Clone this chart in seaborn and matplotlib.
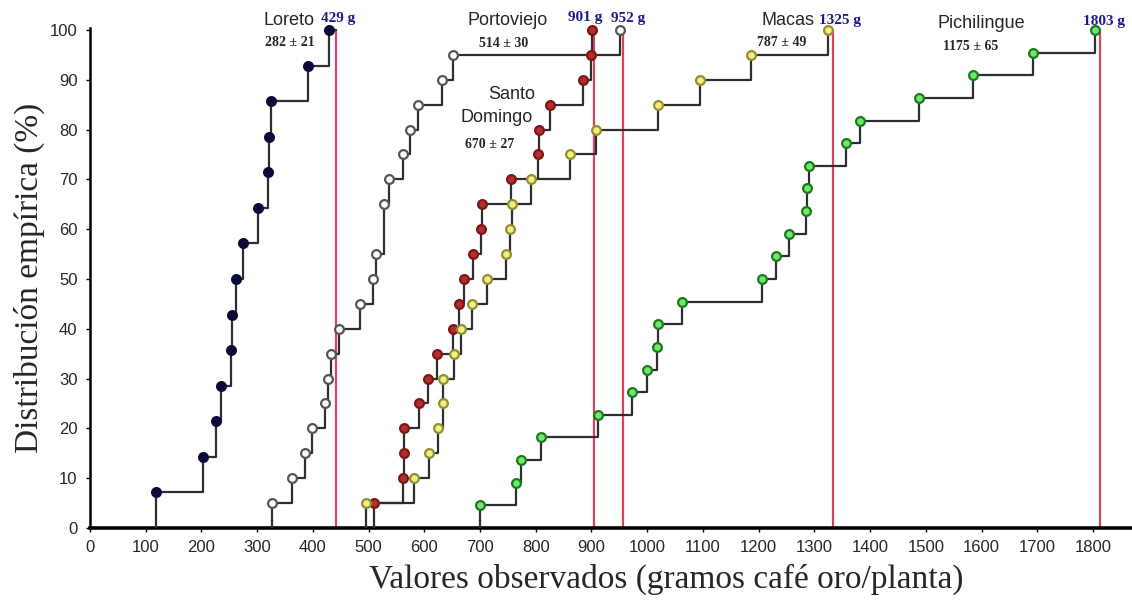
import numpy as np
import pandas as pd
import matplotlib
matplotlib.use("Agg")
import matplotlib.pyplot as plt
import seaborn as sns

# ---- data (g coffee per plant, one value per observation) ----
loreto = [118, 202, 226, 235, 253, 255, 262, 275, 301, 319, 321, 325, 392, 429]
portoviejo = [327, 362, 386, 399, 421, 427, 432, 446, 485, 508, 513, 527, 527,
              537, 562, 575, 589, 631, 652, 952]
santo_domingo = [510, 562, 563, 564, 590, 607, 622, 651, 662, 672, 688, 702, 704,
                 756, 804, 806, 826, 884, 900, 901]
macas = [495, 581, 608, 625, 633, 634, 654, 666, 686, 713, 747, 753, 757, 792,
         862, 908, 1020, 1095, 1186, 1325]
pichilingue = [700, 765, 773, 810, 911, 973, 999, 1018, 1020, 1062, 1206, 1231,
               1254, 1285, 1287, 1290, 1357, 1382, 1487, 1585, 1693, 1803]

series_names = ["Loreto", "Portoviejo", "Santo Domingo", "Macas", "Pichilingue"]
series_data = [loreto, portoviejo, santo_domingo, macas, pichilingue]
max_labels = ["429 g", "952 g", "901 g", "1325 g", "1803 g"]
mean_labels = ["282 ± 21", "514 ± 30", "670 ± 27", "787 ± 49", "1175 ± 65"]
red_line_x = [441, 956, 905, 1334, 1812]
x_ticks = list(range(0, 1900, 100))
y_ticks = list(range(0, 110, 10))

# ---- styles ----
face_colors = ["#0b0b3a", "#ffffff", "#b52d2d", "#f3ef78", "#6ee86e"]
edge_colors = ["#0b0b3a", "#555555", "#7a1818", "#8f8f3a", "#1d7a1d"]
line_color = "#2e2e2e"
red_color = "#d8435f"
num_color = "#1c1c8a"

sns.set_theme(style="ticks")
plt.rcParams["font.family"] = ["Liberation Sans", "DejaVu Sans"]

fig = plt.figure(figsize=(11.32, 6), dpi=100)
ax = fig.add_axes([90 / 1132, 72 / 600, (1132 - 90) / 1132, 500 / 600])

rows = []
for name, vals in zip(series_names, series_data):
    for v in vals:
        rows.append({"site": name, "value": v})
df = pd.DataFrame(rows)

for i, name in enumerate(series_names):
    sub = df[df["site"] == name]
    vals = np.sort(sub["value"].to_numpy())
    n = len(vals)
    # red reference line
    ax.plot([red_line_x[i], red_line_x[i]], [0, 100], color=red_color, lw=1.6, zorder=2)
    # step ECDF line
    sns.ecdfplot(data=sub, x="value", stat="percent", ax=ax, color=line_color,
                 lw=1.6, zorder=3)
    ax.plot([vals[-1], red_line_x[i]], [100, 100], color=line_color, lw=1.6, zorder=3)
    uniq = np.unique(vals)
    pct = np.searchsorted(vals, uniq, side="right") / n * 100
    sns.scatterplot(x=uniq, y=pct, ax=ax, s=40, color=face_colors[i],
                    edgecolor=edge_colors[i], linewidth=1.6, zorder=5, clip_on=False)

ax.set_xlim(0, 1870)
ax.set_ylim(0, 100.4)
ax.set_xticks(x_ticks)
ax.set_yticks(y_ticks)
ax.tick_params(axis="both", labelsize=12, length=3, width=1, color="black")
ax.tick_params(axis="x", pad=6)
ax.tick_params(axis="y", pad=6)
for s in ["top", "right"]:
    ax.spines[s].set_visible(False)
ax.spines["bottom"].set_linewidth(2.6)
ax.spines["left"].set_linewidth(1.8)
ax.spines["bottom"].set_color("black")
ax.spines["left"].set_color("black")

serif = ["Liberation Serif", "DejaVu Serif"]
ax.set_xlabel("Valores observados (gramos café oro/planta)", fontsize=24,
              family=serif)
ax.xaxis.set_label_coords(0.553, -0.072)
ax.set_ylabel("Distribución empírica (%)", fontsize=24, family=serif)
ax.yaxis.set_label_coords(-0.043, 0.5)

# ---- annotations ----
name_pos = {"Loreto": (357, 101.9), "Portoviejo": (749, 102.0),
            "Pichilingue": (1600, 101.4), "Macas": (1253, 102.0)}
for nm, (x, y) in name_pos.items():
    ax.text(x, y, nm, ha="center", va="center", fontsize=13, clip_on=False)
ax.text(757, 87.0, "Santo", ha="center", va="center", fontsize=13)
ax.text(729, 82.5, "Domingo", ha="center", va="center", fontsize=13)

mean_pos = [(359, 97.4), (742, 97.2), (718, 77.1), (1242, 97.4), (1580, 96.6)]
for lab, (x, y) in zip(mean_labels, mean_pos):
    ax.text(x, y, lab, ha="center", va="center", fontsize=10, family=serif,
            fontweight="bold")

max_pos = [(446, 102.4), (966, 102.4), (888, 102.6), (1346, 102.0), (1820, 101.8)]
for lab, (x, y) in zip(max_labels, max_pos):
    ax.text(x, y, lab, ha="center", va="center", fontsize=11, family=serif,
            fontweight="bold", color=num_color, clip_on=False)

fig.savefig("out.png", dpi=100, facecolor="white")
